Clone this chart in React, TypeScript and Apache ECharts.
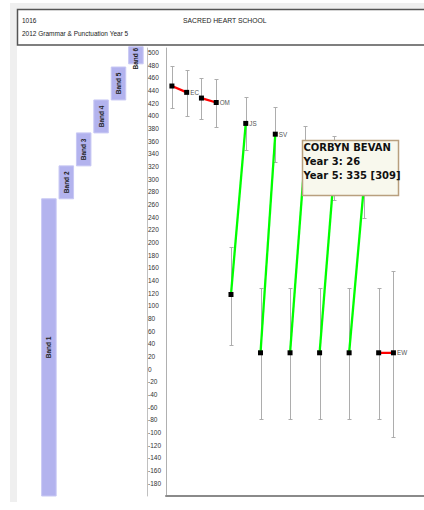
import React, { useEffect, useRef } from "react";
import * as echarts from "echarts";

// ---------- header texts ----------
const schoolCode = "1016";
const schoolName = "SACRED HEART SCHOOL";
const testTitle = "2012 Grammar & Punctuation Year 5";

// ---------- bands ----------
const bandNames = ["Band 1", "Band 2", "Band 3", "Band 4", "Band 5", "Band 6"];
const bandLow = [-200, 269, 321, 373, 425, 482];
const bandHigh = [269, 321, 373, 425, 477, 509];

// ---------- students (Year 3 -> Year 5) ----------
const studentInitials = ["EC", "OM", "JS", "SV", "", "", "", "EW"];
const year3Scores = [447, 428, 118, 26, 26, 26, 26, 26];
const year3Low = [413, 395, 39, -78, -78, -78, -78, -78];
const year3High = [479, 460, 193, 128, 128, 128, 128, 128];
const year5Scores = [437, 421, 388, 371, 335, 317, 289, 26];
const year5Low = [399, 382, 346, 327, 285, 267, 239, -107];
const year5High = [473, 458, 429, 414, 384, 368, 339, 155];

// ---------- tooltip ----------
const tooltipName = "CORBYN BEVAN";
const tooltipStudent = 4;

// ---------- axis ----------
const yMin = -200;
const yMax = 507;
const yInterval = 20;
const yLabelMin = -180;
const yLabelMax = 500;

const FONT = "'Liberation Sans', Arial, sans-serif";

export default function App() {
  const ref = useRef<HTMLDivElement>(null);

  useEffect(() => {
    if (!ref.current) return;
    const chart = echarts.init(ref.current, null, { renderer: "svg" });

    const errorData: number[][] = [];
    year3Scores.forEach((_, i) => {
      errorData.push([2 * i + 1, year3Low[i], year3High[i]]);
      errorData.push([2 * i + 2, year5Low[i], year5High[i]]);
    });

    const lineSeries = year3Scores.map((v3, i) => ({
      type: "line",
      xAxisIndex: 0,
      yAxisIndex: 0,
      z: 4,
      silent: true,
      symbol: "rect",
      symbolSize: 5,
      itemStyle: { color: "#000" },
      lineStyle: {
        color: year5Scores[i] > v3 ? "#00ff00" : "#ff0000",
        width: 2.3,
      },
      label: {
        show: false,
        position: "right",
        distance: 1,
        fontSize: 6.3,
        color: "#555",
        fontFamily: FONT,
      },
      data: [
        [2 * i + 1, v3],
        {
          value: [2 * i + 2, year5Scores[i]],
          label: { show: !!studentInitials[i], formatter: studentInitials[i] },
        },
      ],
    }));

    const y3 = year3Scores[tooltipStudent];
    const y5 = year5Scores[tooltipStudent];
    const tipLines = [tooltipName, `Year 3: ${y3}`, `Year 5: ${y5} [${y5 - y3}]`];

    chart.setOption({
      animation: false,
      backgroundColor: "#fff",
      grid: [
        { left: 166, top: 48, right: 0, bottom: 14 },
        { left: 40.2, top: 48, width: 104.4, bottom: 14 },
      ],
      xAxis: [
        {
          type: "value",
          gridIndex: 0,
          min: 0.6,
          max: 18.07,
          axisLine: { show: true, onZero: false, lineStyle: { color: "#8a8a8a", width: 2 } },
          axisTick: { show: false },
          axisLabel: { show: false },
          splitLine: { show: false },
        },
        {
          type: "category",
          gridIndex: 1,
          data: bandNames,
          show: false,
        },
      ],
      yAxis: [
        {
          type: "value",
          gridIndex: 0,
          position: "left",
          offset: 19,
          min: yMin,
          max: yMax,
          interval: yInterval,
          axisLine: { show: true, lineStyle: { color: "#c0c0c0", width: 1 } },
          axisTick: { show: false },
          splitLine: { show: false },
          axisLabel: {
            inside: true,
            margin: 1,
            fontSize: 6.5,
            color: "#333",
            fontFamily: FONT,
            showMaxLabel: false,
            formatter: (v: number) => (v < yLabelMin || v > yLabelMax ? "" : String(v)),
          },
        },
        {
          type: "value",
          gridIndex: 0,
          position: "left",
          offset: 0,
          min: yMin,
          max: yMax,
          axisLine: { show: true, lineStyle: { color: "#b0b0b0", width: 1 } },
          axisTick: { show: false },
          axisLabel: { show: false },
          splitLine: { show: false },
        },
        {
          type: "value",
          gridIndex: 1,
          min: yMin,
          max: yMax,
          show: false,
          splitLine: { show: false },
        },
      ],
      series: [
        {
          type: "custom",
          xAxisIndex: 1,
          yAxisIndex: 2,
          clip: false,
          silent: true,
          z: 1,
          data: bandNames.map((_, i) => [i, bandLow[i], bandHigh[i]]),
          encode: { x: 0, y: [1, 2] },
          renderItem: (params: any, api: any) => {
            const i = api.value(0);
            const lo = api.coord([i, api.value(1)]);
            const hi = api.coord([i, api.value(2)]);
            const w = api.size([1, 0])[0] * 0.835;
            const top = hi[1];
            const h = lo[1] - hi[1];
            const cy = Math.max(top + h / 2, top + 12);
            return {
              type: "group",
              children: [
                {
                  type: "rect",
                  shape: { x: lo[0] - w / 2, y: top, width: w, height: h },
                  style: { fill: "#b3b3ee", stroke: "#c8c8f4", lineWidth: 1 },
                },
                {
                  type: "text",
                  x: lo[0],
                  y: cy,
                  rotation: Math.PI / 2,
                  style: {
                    text: bandNames[params.dataIndex],
                    fill: "#222",
                    font: `bold 6.5px ${FONT}`,
                    align: "center",
                    verticalAlign: "middle",
                  },
                },
              ],
            };
          },
        },
        {
          type: "custom",
          xAxisIndex: 0,
          yAxisIndex: 0,
          clip: false,
          silent: true,
          z: 2,
          data: errorData,
          encode: { x: 0, y: [1, 2] },
          renderItem: (params: any, api: any) => {
            const x = api.value(0);
            const lo = api.coord([x, api.value(1)]);
            const hi = api.coord([x, api.value(2)]);
            const cx = Math.round(lo[0]) + 0.5;
            const a = Math.round(lo[1]) + 0.5;
            const b = Math.round(hi[1]) + 0.5;
            const style = { stroke: "#adadad", lineWidth: 1 };
            return {
              type: "group",
              children: [
                { type: "line", shape: { x1: cx, y1: a, x2: cx, y2: b }, style },
                { type: "line", shape: { x1: cx - 2, y1: a, x2: cx + 2, y2: a }, style },
                { type: "line", shape: { x1: cx - 2, y1: b, x2: cx + 2, y2: b }, style },
              ],
            };
          },
        },
        ...lineSeries,
      ],
      graphic: {
        elements: [
          { type: "rect", shape: { x: 10, y: 3, width: 7, height: 499 }, style: { fill: "#efefef" }, silent: true },
          { type: "rect", shape: { x: 10, y: 3, width: 414, height: 6 }, style: { fill: "#efefef" }, silent: true },
          {
            type: "rect",
            shape: { x: 17.5, y: 9.5, width: 420, height: 35.5 },
            style: { fill: "#fff", stroke: "#555", lineWidth: 1.5 },
            silent: true,
          },
          {
            type: "text",
            x: 22,
            y: 20.7,
            style: { text: schoolCode, font: `6.5px ${FONT}`, fill: "#222", verticalAlign: "middle" },
          },
          {
            type: "text",
            x: 22,
            y: 33.3,
            style: { text: testTitle, font: `6.5px ${FONT}`, fill: "#222", verticalAlign: "middle" },
          },
          {
            type: "text",
            x: 183,
            y: 20.7,
            style: { text: schoolName, font: `6.8px ${FONT}`, fill: "#222", verticalAlign: "middle" },
          },
          {
            type: "rect",
            z: 100,
            shape: { x: 302.5, y: 140.5, width: 96, height: 55 },
            style: { fill: "#f8f8ed", stroke: "#b89f7e", lineWidth: 1.5 },
          },
          ...tipLines.map((t, k) => ({
            type: "text",
            z: 101,
            x: 303.5,
            y: 147.3 + k * 14.2,
            style: {
              text: t,
              font: "bold 10px 'DejaVu Sans', sans-serif",
              fill: "#111",
              verticalAlign: "middle",
            },
          })),
        ],
      },
    });

    return () => chart.dispose();
  }, []);

  return (
    <div
      ref={ref}
      style={{ position: "fixed", left: 0, top: 0, width: 424, height: 510 }}
    />
  );
}
